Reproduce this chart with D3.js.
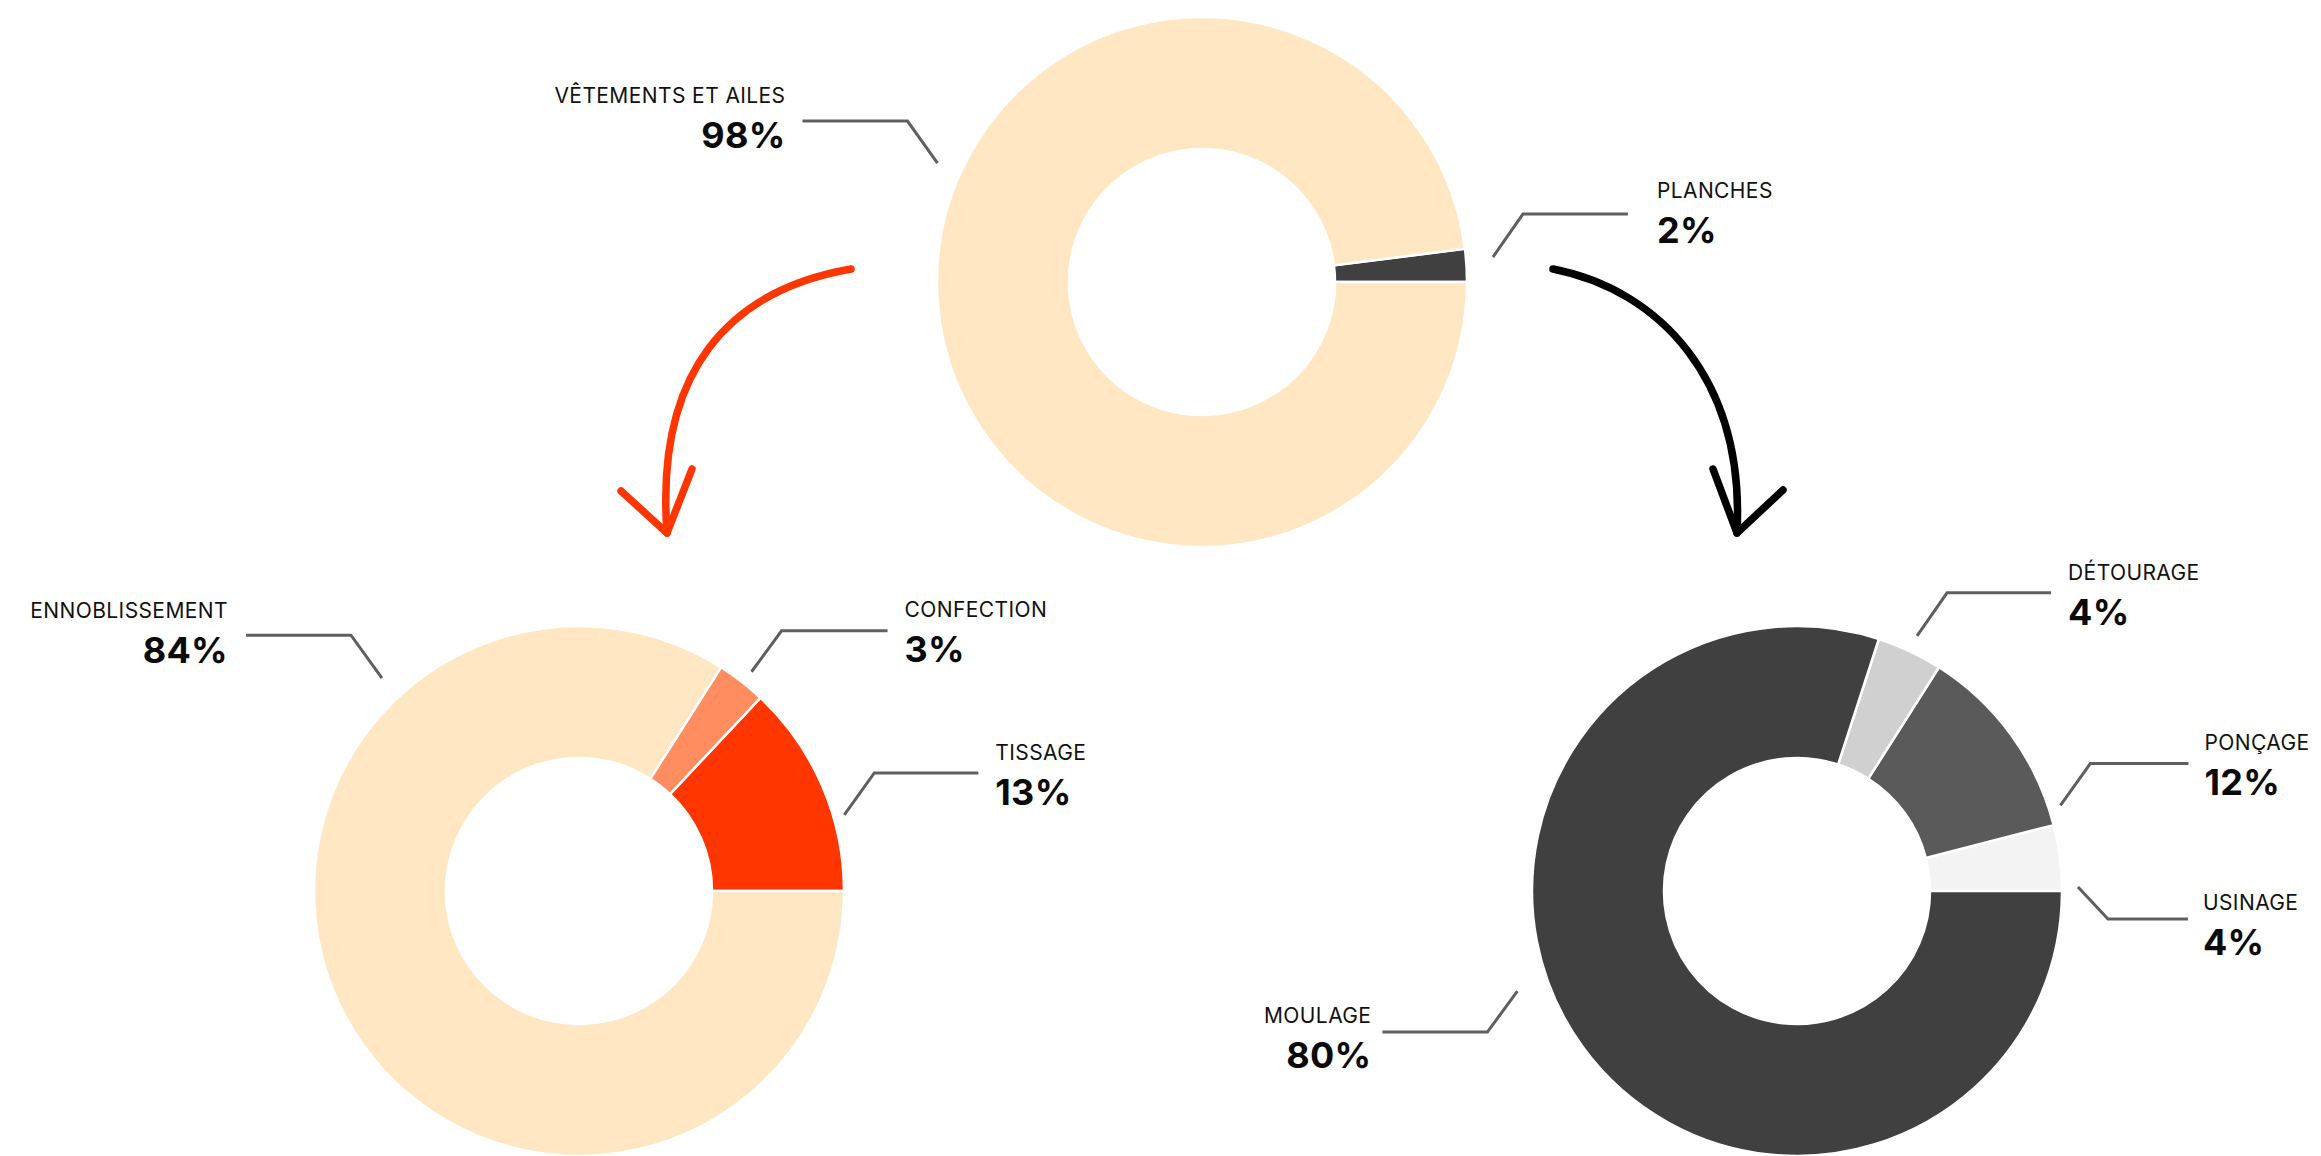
<!DOCTYPE html>
<html>
<head>
<meta charset="utf-8">
<script src="https://cdn.jsdelivr.net/npm/d3@7"></script>
<style>
  html, body { margin: 0; padding: 0; background: #ffffff; overflow: hidden; }
  svg { display: block; font-family: Inter, "Noto Sans", sans-serif; }
</style>
</head>
<body>
<svg id="chart" width="2321" height="1156"></svg>
<script>
// Share of each production step (percent)
const mainCategories = ["PLANCHES", "VÊTEMENTS ET AILES"];
const mainValues = [2, 98];

const textileCategories = ["TISSAGE", "CONFECTION", "ENNOBLISSEMENT"];
const textileValues = [13, 3, 84];

const boardCategories = ["USINAGE", "PONÇAGE", "DÉTOURAGE", "MOULAGE"];
const boardValues = [4, 12, 4, 80];

// Slice colours, in the same order as the categories
const mainColors = ["#404040", "#FEE7C2"];
const textileColors = ["#FF3600", "#FF8D60", "#FEE7C2"];
const boardColors = ["#F3F3F3", "#5A5A5A", "#D0D0D0", "#404040"];

// Layout: donut centres and label leader geometry
// angle: degrees counter-clockwise from 3 o'clock, where the leader starts
const R_OUT = 265, R_IN = 133;
const donuts = [
  {
    cx: 1202, cy: 282, cats: mainCategories, vals: mainValues, colors: mainColors,
    labels: [
      { angle: 4.9,   r: 292, dx: 30,  dy: -43, len: 105, gap: 29, nameDy: -16 },
      { angle: 155.8, r: 290, dx: -30, dy: -42, len: 105, gap: 17, nameDy: -18 }
    ]
  },
  {
    cx: 579, cy: 891, cats: textileCategories, vals: textileValues, colors: textileColors,
    labels: [
      { angle: 16,    r: 276, dx: 30,  dy: -42, len: 104, gap: 17, nameDy: -13 },
      { angle: 51.8,  r: 279, dx: 30,  dy: -41, len: 106, gap: 17, nameDy: -14 },
      { angle: 132.8, r: 290, dx: -31, dy: -43, len: 105, gap: 18, nameDy: -17 }
    ]
  },
  {
    cx: 1797, cy: 891, cats: boardCategories, vals: boardValues, colors: boardColors,
    labels: [
      { angle: 0.8,   r: 281, dx: 30,  dy: 32,  len: 80,  gap: 15, nameDy: -9 },
      { angle: 18,    r: 277, dx: 30,  dy: -42, len: 98,  gap: 16, nameDy: -13 },
      { angle: 64.8,  r: 282, dx: 30,  dy: -43, len: 104, gap: 17, nameDy: -13 },
      { angle: 199.7, r: 297, dx: -30, dy: 41,  len: 105, gap: 11, nameDy: -9 }
    ]
  }
];

const svg = d3.select("#chart");

// Slices run counter-clockwise starting at 3 o'clock
const pie = d3.pie()
  .sort(null)
  .value(d => d)
  .startAngle(Math.PI / 2)
  .endAngle(Math.PI / 2 - 2 * Math.PI);

const arc = d3.arc().innerRadius(R_IN).outerRadius(R_OUT);

donuts.forEach(dn => {
  const g = svg.append("g").attr("transform", `translate(${dn.cx},${dn.cy})`);
  const slices = pie(dn.vals);

  g.selectAll("path.slice")
    .data(slices)
    .join("path")
    .attr("class", "slice")
    .attr("d", arc)
    .attr("fill", (d, i) => dn.colors[i])
    .attr("stroke", "#ffffff")
    .attr("stroke-width", 2.5)
    .attr("stroke-linejoin", "miter");

  // Leader lines and labels
  dn.labels.forEach((lb, i) => {
    const a = lb.angle * Math.PI / 180;
    const sx = lb.r * Math.cos(a), sy = -lb.r * Math.sin(a);
    const ex = sx + lb.dx, ey = sy + lb.dy;
    const side = lb.dx > 0 ? 1 : -1;
    const hx = ex + side * lb.len;

    g.append("path")
      .attr("d", d3.line()([[sx, sy], [ex, ey], [hx, ey]]))
      .attr("fill", "none")
      .attr("stroke", "#5F5F5F")
      .attr("stroke-width", 3);

    const tx = hx + side * lb.gap;
    const anchor = side > 0 ? "start" : "end";
    g.append("text")
      .attr("x", tx)
      .attr("y", ey + lb.nameDy)
      .attr("text-anchor", anchor)
      .attr("font-size", 21)
      .attr("font-weight", 400)
      .attr("letter-spacing", "0.4px")
      .attr("fill", "#111111")
      .text(dn.cats[i]);
    g.append("text")
      .attr("x", tx)
      .attr("y", ey + lb.nameDy + 45)
      .attr("text-anchor", anchor)
      .attr("font-size", 36)
      .attr("font-weight", 700)
      .attr("letter-spacing", "0.3px")
      .attr("fill", "#0A0A0A")
      .text(dn.vals[i] + "%");
  });
});

// Hand-drawn style arrows linking the main ring to each breakdown
function drawArrow(p0, c1, c2, p1, wingA, wingB, color) {
  const body = d3.path();
  body.moveTo(p0[0], p0[1]);
  body.bezierCurveTo(c1[0], c1[1], c2[0], c2[1], p1[0], p1[1]);
  svg.append("path")
    .attr("d", body.toString())
    .attr("fill", "none")
    .attr("stroke", color)
    .attr("stroke-width", 7.5)
    .attr("stroke-linecap", "round");
  svg.append("path")
    .attr("d", d3.line()([wingA, p1, wingB]))
    .attr("fill", "none")
    .attr("stroke", color)
    .attr("stroke-width", 7.5)
    .attr("stroke-linecap", "round")
    .attr("stroke-linejoin", "round");
}

drawArrow([851, 269], [730, 290], [655, 370], [667, 533], [621, 491], [692, 469], "#FF3600");
drawArrow([1553, 269], [1660, 290], [1745, 380], [1737, 533], [1713, 469], [1783, 490], "#000000");
</script>
</body>
</html>
